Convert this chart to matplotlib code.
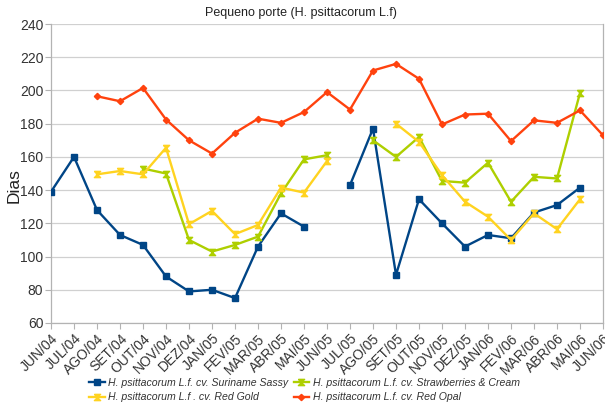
import numpy as np
import matplotlib
matplotlib.use("Agg")
import matplotlib.pyplot as plt

nan = np.nan
categories = ["JUN/04", "JUL/04", "AGO/04", "SET/04", "OUT/04", "NOV/04", "DEZ/04",
              "JAN/05", "FEV/05", "MAR/05", "ABR/05", "MAI/05", "JUN/05", "JUL/05",
              "AGO/05", "SET/05", "OUT/05", "NOV/05", "DEZ/05", "JAN/06", "FEV/06",
              "MAR/06", "ABR/06", "MAI/06", "JUN/06"]

suriname_sassy = [139, 160, 128, 113, 107, 88, 79, 80, 75, 106, 126, 118, nan, 143,
                  177, 89, 134.5, 120, 106, 113, 111, 126.5, 131, 141.5, nan]
strawberries_cream = [nan, nan, nan, nan, 153, 150, 110, 103, 107, 112, 138, 158.5, 161, nan,
                      170, 160, 172, 145.5, 144.5, 156.5, 133, 148, 147, 198.5, nan]
red_gold = [nan, nan, 149.5, 151.5, 149.5, 165.5, 119.5, 127.5, 113.5, 119, 141.5, 138.5, 157.5, nan,
            nan, 180, 169, 149, 133, 124, 110, 126, 116.5, 134.5, nan]
red_opal = [nan, nan, 196.5, 193.5, 201.5, 182.5, 170, 162, 174.5, 183, 180.5, 187, 199, 188.5,
            212, 216, 207, 179.5, 185.5, 186, 169.5, 182, 180.5, 188, 173]

series_labels = ["H. psittacorum L.f. cv. Suriname Sassy",
                 "H. psittacorum L.f. cv. Strawberries & Cream",
                 "H. psittacorum L.f . cv. Red Gold",
                 "H. psittacorum L.f. cv. Red Opal"]

plt.rcParams['font.family'] = ['Liberation Sans', 'DejaVu Sans']

fig = plt.figure(figsize=(6.05, 4.08), dpi=100)
ax = fig.add_axes([51/605, (408-323)/408, (603-51)/605, (323-24)/408])

x = np.arange(len(categories))
hourglass = [(-1, 1), (1, 1), (-1, -1), (1, -1), (-1, 1)]

ax.plot(x, suriname_sassy, color="#004586", lw=1.7, marker="s", ms=4, label=series_labels[0], zorder=3)
ax.plot(x, strawberries_cream, color="#aecf00", lw=1.7, marker=hourglass, ms=4.5, label=series_labels[1], zorder=3)
ax.plot(x, red_gold, color="#ffd320", lw=1.7, marker=hourglass, ms=4.5, label=series_labels[2], zorder=3)
ax.plot(x, red_opal, color="#ff420e", lw=1.7, marker="D", ms=3.2, label=series_labels[3], zorder=3)

ax.set_xlim(0, len(categories) - 1)
ax.set_ylim(60, 240)
ax.set_yticks(np.arange(60, 241, 20))
ax.set_xticks(x)
ax.set_xticklabels(categories, rotation=45, ha="right", rotation_mode="anchor")
ax.tick_params(axis="both", labelsize=10, colors="#b3b3b3", labelcolor="#333333", length=4, width=0.8)
ax.tick_params(axis="x", pad=2)
ax.tick_params(axis="y", pad=1.5)
ax.yaxis.grid(True, color="#d0d0d0", lw=0.9)
ax.set_axisbelow(True)
for s in ["left", "bottom", "right"]:
    ax.spines[s].set_color("#b3b3b3")
    ax.spines[s].set_linewidth(0.9)
ax.spines["top"].set_visible(False)

ax.set_ylabel("Dias", fontsize=12.5, color="#222222", va="center")
ax.yaxis.set_label_coords(-0.066, 0.458)
fig.text(0.497, 0.968, "Pequeno porte (H. psittacorum L.f)", ha="center", va="center", fontsize=9, color="#222222")

handles, labels = ax.get_legend_handles_labels()
order = [0, 2, 1, 3]
leg = fig.legend([handles[i] for i in order], [labels[i] for i in order], ncol=2,
                 loc="center", bbox_to_anchor=(0.503, 0.044), frameon=False,
                 prop={"style": "italic", "size": 7.6}, handlelength=1.5, handletextpad=0.3,
                 columnspacing=0.5, labelspacing=0.45, borderpad=0)
for t in leg.get_texts():
    t.set_color("#333333")

fig.savefig("out.png", dpi=100)
